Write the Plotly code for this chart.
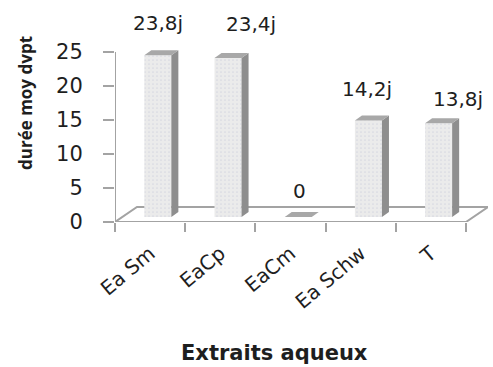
import plotly.graph_objects as go

# Mean development duration per aqueous extract
categories = ["Ea Sm", "EaCp", "EaCm", "Ea Schw", "T"]
durations = [23.8, 23.4, 0, 14.2, 13.8]
value_labels = ["23,8j", "23,4j", "0", "14,2j", "13,8j"]
y_ticks = [0, 5, 10, 15, 20, 25]

# Pseudo-3D geometry (data units)
BAR_W = 0.385      # width of a bar's front face
FACE_DX = 0.11     # front face pushed back into the floor
FACE_DY = 0.735
DEPTH_DX = 0.10    # bar depth (side / top faces)
DEPTH_DY = 0.73
FLOOR_DX = 0.313   # floor depth
FLOOR_DY = 2.2

# pixel nudges for the value labels
label_dx = [0, 23, 1, -1, 19]
label_dy = [32, 34, 26, 31, 24]

FONT = "DejaVu Sans"
AXIS_GREY = "#a3a3a3"
TEXT = "#1e1e1e"

n = len(categories)
x_lo, x_hi = -0.5, n - 0.5
X_RANGE = [x_lo, x_lo + 373 / 70.2]
Y_RANGE = [0, 212 / 6.8]

fig = go.Figure()

# front faces
centers = [i + FACE_DX for i in range(n)]
fig.add_trace(go.Bar(
    x=centers, y=durations, base=FACE_DY, width=BAR_W,
    marker=dict(
        color="#ebebeb",
        line=dict(width=0),
        pattern=dict(shape=".", fgcolor="#c2c4d6", bgcolor="#ebebeb",
                     size=4, solidity=0.15),
    ),
    hoverinfo="skip", showlegend=False,
))

# side and top faces
side_x, side_y, top_x, top_y = [], [], [], []
for c, v in zip(centers, durations):
    xl, xr = c - BAR_W / 2, c + BAR_W / 2
    y0, y1 = FACE_DY, FACE_DY + v
    if v > 0:
        side_x += [xr, xr + DEPTH_DX, xr + DEPTH_DX, xr, xr, None]
        side_y += [y0, y0 + DEPTH_DY, y1 + DEPTH_DY, y1, y0, None]
    top_x += [xl, xr, xr + DEPTH_DX, xl + DEPTH_DX, xl, None]
    top_y += [y1, y1, y1 + DEPTH_DY, y1 + DEPTH_DY, y1, None]

fig.add_trace(go.Scatter(
    x=side_x, y=side_y, mode="lines", fill="toself",
    fillcolor="#8e8e8e", line=dict(width=0, color="#8e8e8e"),
    hoverinfo="skip", showlegend=False,
))
fig.add_trace(go.Scatter(
    x=top_x, y=top_y, mode="lines", fill="toself",
    fillcolor="#a8a8a8", line=dict(width=0, color="#a8a8a8"),
    hoverinfo="skip", showlegend=False,
))

# floor and vertical axis line
fig.add_shape(
    type="path", layer="below", xref="x", yref="y",
    path=(f"M {x_lo},0 L {x_hi},0 L {x_hi + FLOOR_DX},{FLOOR_DY} "
          f"L {x_lo + FLOOR_DX},{FLOOR_DY} Z"),
    fillcolor="white", line=dict(color=AXIS_GREY, width=2),
)
fig.add_shape(
    type="line", layer="below", xref="x", yref="y",
    x0=x_lo, x1=x_lo, y0=0, y1=max(y_ticks),
    line=dict(color=AXIS_GREY, width=2),
)

# value labels
for c, v, t, dx, dy in zip(centers, durations, value_labels, label_dx, label_dy):
    fig.add_annotation(
        x=c, y=v + FACE_DY, text=t, showarrow=False,
        xanchor="center", yanchor="middle", xshift=dx, yshift=dy,
        font=dict(family=FONT, size=20, color=TEXT),
    )

# axis titles
fig.add_annotation(
    xref="paper", yref="paper", x=(274 - 115) / 373, y=(222 - 353) / 212,
    text="<b>Extraits aqueux</b>", showarrow=False,
    xanchor="center", yanchor="middle",
    font=dict(family=FONT, size=21, color=TEXT),
)
fig.add_annotation(
    xref="paper", yref="paper", x=(26 - 115) / 373, y=(222 - 103) / 212,
    text="<b>durée moy dvpt</b>", showarrow=False, textangle=-90,
    xanchor="center", yanchor="middle",
    font=dict(family="Liberation Sans Narrow, Open Sans", size=17, color=TEXT),
)

fig.update_layout(
    width=493, height=367,
    margin=dict(l=115, r=5, t=10, b=145),
    paper_bgcolor="white", plot_bgcolor="white",
    showlegend=False,
    xaxis=dict(
        range=X_RANGE, showgrid=False, zeroline=False, showline=False,
        tickmode="array", tickvals=list(range(n)), ticktext=categories,
        tickangle=-40, ticks="", ticklabelstandoff=15,
        tickfont=dict(family=FONT, size=20, color=TEXT),
        minor=dict(tickmode="array", tickvals=[x_lo + k for k in range(n + 1)],
                   ticks="outside", ticklen=9, tickwidth=2, tickcolor=AXIS_GREY,
                   showgrid=False),
        fixedrange=True,
    ),
    yaxis=dict(
        range=Y_RANGE, showgrid=False, zeroline=False, showline=False,
        tickmode="array", tickvals=y_ticks,
        ticks="outside", ticklen=11, tickwidth=2, tickcolor=AXIS_GREY,
        ticklabelstandoff=16,
        tickfont=dict(family=FONT, size=21, color=TEXT),
        fixedrange=True,
    ),
)

fig.write_html("out.html")
